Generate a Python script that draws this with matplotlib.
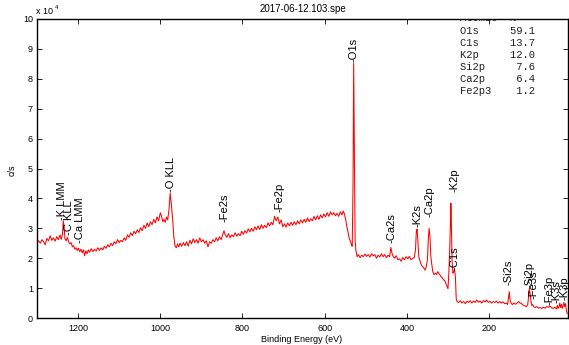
import matplotlib
matplotlib.use("Agg")
import matplotlib.pyplot as plt

plt.rcParams['font.family'] = ['Liberation Sans', 'DejaVu Sans']

# Survey spectrum: binding energy (eV) and counts (x 10^4 c/s)
be = [1300, 1296, 1292, 1288, 1284, 1280, 1276, 1272, 1268, 1264, 1260, 1256, 1252, 1248,
      1244, 1241, 1238, 1236, 1234, 1232, 1229, 1226, 1223, 1220, 1217, 1214, 1211, 1208,
      1205, 1202, 1199, 1196, 1193, 1190, 1187, 1184, 1181, 1178, 1175, 1172, 1168, 1164,
      1160, 1156, 1152, 1148, 1144, 1140, 1136, 1132, 1128, 1124, 1120, 1116, 1112, 1108,
      1104, 1100, 1096, 1092, 1088, 1084, 1080, 1076, 1072, 1068, 1064, 1060, 1056, 1052,
      1048, 1044, 1040, 1036, 1032, 1028, 1024, 1020, 1016, 1012, 1008, 1004, 1000, 997,
      994, 991, 988, 985, 982, 979, 976, 973, 970, 967, 964, 961, 958, 955, 952, 948,
      944, 940, 936, 932, 928, 924, 920, 916, 912, 908, 904, 900, 896, 892, 888, 884,
      880, 876, 872, 868, 864, 860, 856, 852, 848, 845, 842, 838, 834, 830, 826, 822,
      818, 814, 810, 806, 802, 798, 794, 790, 786, 782, 778, 774, 770, 766, 762, 758,
      754, 750, 746, 742, 738, 734, 730, 726, 722, 718, 714, 710, 706, 702, 698, 694,
      690, 686, 682, 678, 674, 670, 666, 662, 658, 654, 650, 646, 642, 638, 634, 630,
      626, 622, 618, 614, 610, 606, 602, 598, 594, 590, 586, 582, 578, 574, 570, 566,
      562, 558, 555, 552, 549, 546, 543, 540, 537, 535, 533, 531, 529.5, 528, 526, 524,
      521, 518, 514, 510, 506, 502, 498, 494, 490, 486, 482, 478, 474, 470, 466, 462,
      458, 454, 450, 446, 442, 439, 436, 433, 430, 426, 422, 418, 414, 410, 406, 402,
      398, 394, 390, 386, 382, 379, 377, 375, 373, 371, 368, 365, 362, 359, 356, 353,
      350, 348, 346, 344, 342, 340, 337, 334, 331, 328, 325, 323, 320, 317, 314, 311,
      308, 305, 302, 300, 298, 296, 294, 293, 292, 290, 288, 286, 284, 282, 280, 278,
      274, 270, 266, 262, 258, 254, 250, 246, 242, 238, 234, 230, 226, 222, 218, 214,
      210, 206, 202, 198, 194, 190, 186, 182, 178, 174, 170, 166, 162, 158, 155, 153,
      151, 149, 146, 143, 140, 136, 132, 128, 124, 120, 116, 112, 109, 106, 104, 102,
      100, 98, 96, 94, 92, 88, 84, 80, 76, 72, 68, 64, 60, 56, 52, 48,
      44, 40, 36, 34, 32, 30, 28, 26, 24, 22, 20, 18, 16, 14, 12, 10]
cps = [2.52, 2.58, 2.50, 2.62, 2.55, 2.45, 2.66, 2.58, 2.75, 2.60, 2.68, 2.57, 2.72, 2.62,
       2.78, 2.63, 2.80, 3.25, 3.05, 2.65, 2.58, 2.70, 2.55, 2.48, 2.52, 2.38, 2.42, 2.30,
       2.35, 2.26, 2.33, 2.22, 2.30, 2.18, 2.28, 2.08, 2.25, 2.15, 2.28, 2.20, 2.32, 2.22,
       2.30, 2.24, 2.35, 2.26, 2.34, 2.28, 2.40, 2.33, 2.45, 2.38, 2.50, 2.42, 2.55, 2.48,
       2.62, 2.52, 2.60, 2.55, 2.68, 2.60, 2.78, 2.70, 2.85, 2.75, 2.90, 2.82, 2.95, 2.86,
       3.02, 2.92, 3.10, 3.00, 3.18, 3.05, 3.22, 3.12, 3.30, 3.18, 3.38, 3.25, 3.52, 3.40,
       3.22, 3.30, 3.20, 3.38, 3.28, 3.60, 4.17, 3.80, 3.30, 2.70, 2.40, 2.35, 2.48, 2.38, 2.50, 2.40,
       2.52, 2.42, 2.55, 2.40, 2.60, 2.48, 2.65, 2.52, 2.62, 2.50, 2.68, 2.55, 2.62, 2.50, 2.58, 2.38,
       2.55, 2.50, 2.62, 2.55, 2.68, 2.58, 2.72, 2.62, 2.80, 2.92, 2.78, 2.70, 2.82, 2.68, 2.78, 2.72,
       2.85, 2.74, 2.82, 2.75, 2.90, 2.80, 2.92, 2.84, 2.98, 2.88, 3.00, 2.90, 3.05, 2.95, 3.08, 2.96,
       3.12, 3.00, 3.10, 3.02, 3.18, 3.08, 3.20, 3.12, 3.40, 3.25, 3.38, 3.15, 3.28, 3.05, 3.15, 3.04,
       3.18, 3.08, 3.20, 3.10, 3.22, 3.12, 3.25, 3.15, 3.28, 3.18, 3.30, 3.20, 3.35, 3.22, 3.32, 3.25,
       3.40, 3.28, 3.42, 3.30, 3.45, 3.35, 3.48, 3.38, 3.52, 3.40, 3.55, 3.45, 3.52, 3.42, 3.50, 3.40,
       3.55, 3.45, 3.58, 3.48, 3.30, 3.05, 2.85, 2.65, 2.55, 2.45, 2.40, 4.50, 8.52, 6.00, 2.60, 2.25,
       2.05, 2.12, 2.02, 2.10, 2.05, 2.14, 2.06, 2.12, 2.04, 2.15, 2.08, 2.12, 2.00, 2.10, 2.04, 2.15,
       2.05, 2.12, 2.02, 2.10, 2.05, 2.36, 2.15, 2.05, 2.00, 2.08, 1.95, 1.98, 1.90, 2.02, 1.95, 2.05,
       1.98, 2.06, 1.95, 2.00, 2.02, 2.30, 2.90, 2.97, 2.50, 2.05, 1.90, 1.78, 1.72, 1.68, 1.60, 1.70,
       1.95, 2.60, 3.00, 2.75, 2.10, 1.85, 1.55, 1.45, 1.50, 1.45, 1.55, 1.50, 1.45, 1.38, 1.35, 1.28,
       1.25, 1.15, 1.05, 0.98, 1.50, 2.20, 3.20, 3.84, 3.30, 1.90, 1.50, 1.55, 1.62, 1.40, 0.65, 0.55,
       0.52, 0.58, 0.50, 0.55, 0.48, 0.56, 0.52, 0.58, 0.50, 0.57, 0.52, 0.60, 0.53, 0.57, 0.50, 0.58,
       0.54, 0.60, 0.52, 0.56, 0.50, 0.55, 0.52, 0.56, 0.50, 0.55, 0.50, 0.54, 0.48, 0.50, 0.45, 0.65,
       0.88, 0.60, 0.48, 0.45, 0.50, 0.46, 0.50, 0.55, 0.50, 0.47, 0.42, 0.40, 0.38, 0.45, 0.70, 0.99,
       0.80, 0.55, 0.42, 0.45, 0.38, 0.35, 0.38, 0.33, 0.35, 0.32, 0.36, 0.33, 0.38, 0.36, 0.40, 0.34,
       0.32, 0.36, 0.30, 0.42, 0.32, 0.38, 0.50, 0.35, 0.45, 0.32, 0.40, 0.52, 0.38, 0.48, 0.25, 0.15]

# Peak labels: name, energy, height where the label starts
peak_names = ['K LMM', 'C KLL', 'Ca LMM', 'O KLL', 'Fe2s', 'Fe2p', 'O1s', 'Ca2s', 'K2s',
              'Ca2p', 'K2p', 'C1s', 'Si2s', 'Si2p', 'Fe3s', 'Fe3p', 'K3s', 'K3p']
peak_be = [1238, 1223, 1195, 975, 843, 711, 529.3, 438, 375,
           345, 283, 284.6, 152.6, 101, 93, 53, 35, 17]
peak_y = [3.28, 2.78, 2.50, 4.22, 3.22, 3.56, 8.57, 2.50, 3.05,
          3.39, 4.22, 1.60, 1.10, 1.00, 0.62, 0.45, 0.50, 0.60]

# Quantification table
quant_names = ['O1s', 'C1s', 'K2p', 'Si2p', 'Ca2p', 'Fe2p3']
quant_vals = [59.1, 13.7, 12.0, 7.6, 6.4, 1.2]

W, H = 569, 345
fig = plt.figure(figsize=(W / 100, H / 100), dpi=100)
ax = fig.add_axes([37 / W, 27 / H, 531 / W, 299 / H])

ax.plot(be, cps, color='red', linewidth=0.75)

for name, x, y in zip(peak_names, peak_be, peak_y):
    ax.text(x, y, '-' + name, rotation=90, ha='center', va='bottom', fontsize=8)

ax.set_xlim(1300, 8)
ax.set_ylim(0, 10)
ax.set_xticks([1200, 1000, 800, 600, 400, 200])
ax.set_yticks(range(0, 11))
ax.tick_params(direction='in', length=3.6, width=0.6, labelsize=6.5,
               top=True, right=True, pad=3)
ax.tick_params(axis='x', pad=4)
for sp in ax.spines.values():
    sp.set_linewidth(1.0)

# table in the upper right, header clipped by the frame
table_rows = ['Atomic  %'] + ['%-5s%7.1f' % (n, v) for n, v in zip(quant_names, quant_vals)]
for i, row in enumerate(table_rows):
    yp = 18.5 + 12.05 * i
    ax.text((459.5 - 37) / 531, (318 - yp) / 299, row, transform=ax.transAxes,
            family='Liberation Mono', fontsize=7.6, va='center', ha='left',
            color='#222222', clip_on=True)

fig.text(303 / W, 1 - 9.5 / H, '2017-06-12.103.spe', ha='center', va='center', fontsize=7)
fig.text(302 / W, 1 - 340 / H, 'Binding Energy (eV)', ha='center', va='center', fontsize=6.5)
fig.text(12 / W, 1 - 170 / H, 'c/s', rotation=90, ha='center', va='center', fontsize=6.5)
fig.text(36.5 / W, 1 - 12 / H, 'x 10', ha='left', va='center', fontsize=6.5)
fig.text(55 / W, 1 - 7.5 / H, '4', ha='left', va='center', fontsize=4.5)

fig.savefig('out.png', dpi=100)
